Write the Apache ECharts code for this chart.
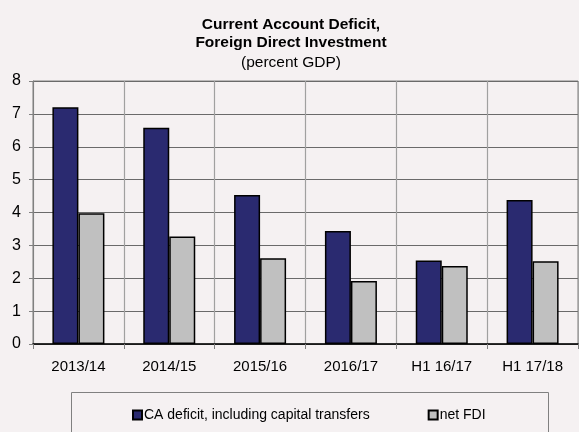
<!DOCTYPE html>
<html>
<head>
<meta charset="utf-8">
<script src="https://cdn.jsdelivr.net/npm/echarts@6/dist/echarts.min.js"></script>
<style>html,body{margin:0;padding:0;background:#f5f1f2;}#c{width:579px;height:432px;}</style>
</head>
<body>
<div id="c"></div>
<script>
var categories = ['2013/14', '2014/15', '2015/16', '2016/17', 'H1 16/17', 'H1 17/18'];
var caDeficit = [7.2, 6.58, 4.53, 3.44, 2.54, 4.38];
var netFDI = [3.98, 3.27, 2.61, 1.92, 2.37, 2.52];
var yTicks = [0, 1, 2, 3, 4, 5, 6, 7, 8];

var chart = echarts.init(document.getElementById('c'), null, {renderer: 'canvas'});
var font = 'Liberation Sans, Arial, sans-serif';
chart.setOption({
  backgroundColor: '#f5f1f2',
  animation: false,
  textStyle: {fontFamily: font},
  title: {
    text: 'Current Account Deficit,\nForeign Direct Investment',
    subtext: '(percent GDP)',
    left: 286, textAlign: 'center', top: 11,
    itemGap: 2,
    textStyle: {fontSize: 15.5, fontWeight: 'bold', color: '#000', lineHeight: 18, fontFamily: font},
    subtextStyle: {fontSize: 15.5, color: '#000', lineHeight: 18, fontFamily: font}
  },
  legend: {
    left: 127, top: 403,
    itemWidth: 9, itemHeight: 9, itemGap: 58,
    icon: 'rect',
    textStyle: {fontSize: 14, color: '#000', padding: [0, 0, 0, -3], fontFamily: font},
    data: ['CA deficit, including capital transfers', 'net FDI']
  },
  graphic: [{
    type: 'rect', left: 71, top: 392, z: -1,
    shape: {width: 477, height: 60},
    style: {fill: '#f5f1f2', stroke: '#808080', lineWidth: 1}
  }],
  grid: {left: 33, right: 1, top: 81, bottom: 88, show: true, borderColor: '#808080', borderWidth: 1, backgroundColor: 'transparent'},
  xAxis: {
    type: 'category', data: categories,
    axisLine: {lineStyle: {color: '#000', width: 1.5}},
    axisTick: {show: true, length: 5, lineStyle: {color: '#808080'}},
    axisLabel: {fontSize: 15, color: '#000', margin: 15, fontFamily: font},
    splitLine: {show: true, lineStyle: {color: '#a0a0a0', width: 1.2}}
  },
  yAxis: {
    type: 'value', min: yTicks[0], max: yTicks[yTicks.length - 1], interval: 1,
    axisLine: {show: true, lineStyle: {color: '#808080', width: 1}},
    axisTick: {show: true, length: 4, lineStyle: {color: '#808080'}},
    axisLabel: {fontSize: 16, color: '#000', margin: 12, fontFamily: font},
    splitLine: {show: true, lineStyle: {color: '#6a6a6a', width: 1.2}}
  },
  series: [{
    name: 'CA deficit, including capital transfers', type: 'bar', data: caDeficit,
    barWidth: 26, barGap: '0%',
    itemStyle: {color: '#2a2a70', borderColor: '#000', borderWidth: 1.5}
  }, {
    name: 'net FDI', type: 'bar', data: netFDI,
    barWidth: 26,
    itemStyle: {color: '#c0c0c0', borderColor: '#000', borderWidth: 1.5}
  }]
});
</script>
</body>
</html>
